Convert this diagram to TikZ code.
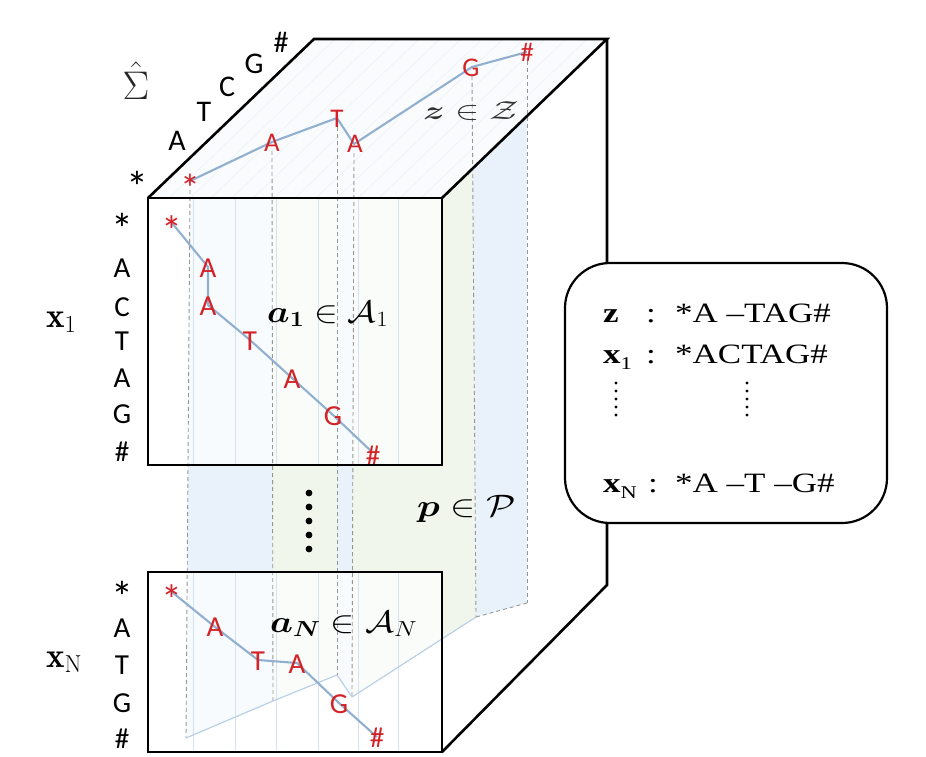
\RequirePackage{fix-cm}
\documentclass[tikz,border=0pt]{standalone}
\usepackage{amsmath}
\usepackage{graphicx}
\usepackage{fontspec}
\newfontfamily\carl{Carlito}
\newfontfamily\tms[FakeStretch=1.25,Ligatures=TeX]{Liberation Serif}
\definecolor{seqred}{RGB}{212,35,40}
\definecolor{pathblue}{RGB}{145,175,207}
\definecolor{bandblue}{RGB}{233,241,250}
\definecolor{bandgreen}{RGB}{240,246,236}
\definecolor{faceclr}{RGB}{250,251,253}
\definecolor{gridclr}{RGB}{212,226,242}
\definecolor{dashclr}{RGB}{150,150,150}
\definecolor{floorclr}{RGB}{185,208,230}
\tikzset{
  lbl/.style={anchor=base, inner sep=0, font={\carl\fontsize{29}{30}\selectfont}},
  toplbl/.style={anchor=base, inner sep=0, font={\carl\fontsize{30}{30}\selectfont}},
  redl/.style={anchor=base, inner sep=0, text=seqred, font={\carl\fontsize{29}{30}\selectfont}},
  redtop/.style={anchor=base, inner sep=0, text=seqred, font={\carl\fontsize{27}{28}\selectfont}},
  astk/.style={anchor=base, inner sep=0, text depth=0pt, font={\carl\fontsize{44}{44}\selectfont}},
  redastk/.style={anchor=base, inner sep=0, text depth=0pt, text=seqred, font={\carl\fontsize{42}{42}\selectfont}},
  cubeline/.style={line width=2.6, black},
  dashv/.style={dashclr, line width=0.9, dash pattern=on 4pt off 3pt},
  pathln/.style={pathblue, line width=2.1, line join=round},
  gridln/.style={gridclr, line width=0.8},
  boxtxt/.style={inner sep=0, font={\tms\fontsize{28}{30}\selectfont}},
  mathlbl/.style={inner sep=0, anchor=base west},
}
\begin{document}
\begin{tikzpicture}[x=1pt,y=-1pt]
\useasboundingbox (0,0) rectangle (926,757);
% path vertices on the top face
\coordinate (t0) at (190,181);
\coordinate (t1) at (272,142);
\coordinate (t2) at (337,118);
\coordinate (t3) at (354,144);
\coordinate (t4) at (472,67);
\coordinate (t5) at (527,52);
% floor of the sheet
\coordinate (b0) at (186,738);
\coordinate (b1) at (273,701);
\coordinate (b2) at (337,675);
\coordinate (b3) at (352,697);
\coordinate (b4) at (476,617);
\coordinate (b5) at (527,603);
% sheet bands
\fill[bandblue] (t0)--(t1)--(b1)--(b0)--cycle;
\fill[bandgreen] (t1)--(t2)--(b2)--(b1)--cycle;
\fill[bandblue] (t2)--(t3)--(b3)--(b2)--cycle;
\fill[bandgreen] (t3)--(t4)--(b4)--(b3)--cycle;
\fill[bandblue] (t4)--(t5)--(b5)--(b4)--cycle;
% top face
\coordinate (fl) at (148,198);
\coordinate (bl) at (314,39);
\coordinate (br) at (607,39);
\coordinate (fr) at (442,198);
\coordinate (rb) at (607,585);
\coordinate (nbr) at (442,752);
\fill[faceclr] (fl)--(bl)--(br)--(fr)--cycle;
\begin{scope}
  \clip (fl)--(bl)--(br)--(fr)--cycle;
  \foreach \i in {0,...,14} \draw[gridclr!45, line width=0.6] (148+21*\i,198) -- ++(166,-159);
\end{scope}
% front boxes (semi-transparent)
\fill[white, fill opacity=0.72] (148,198) rectangle (442,465);
\fill[white, fill opacity=0.72] (148,572) rectangle (442,752);
\foreach \x in {193,235,276,318,358,398} {
  \draw[gridln] (\x,198)--(\x,465);
  \draw[gridln] (\x,572)--(\x,752);
}
% dashed drop lines
\foreach \k in {0,...,5} \draw[dashv] ([yshift=-9pt]t\k) -- (b\k);
% floor line
\draw[floorclr, line width=1.2, line join=round] (b0)--(b1)--(b2)--(b3)--(b4);
\draw[dashv] (b4)--(b5);
% alignment paths
\coordinate (p0) at (172,223);
\coordinate (p1) at (208,267);
\coordinate (p2) at (208,305);
\coordinate (p3) at (250,340);
\coordinate (p4) at (292,378);
\coordinate (p5) at (333,415);
\coordinate (p6) at (372,452);
\coordinate (q0) at (172,592);
\coordinate (q1) at (215,627);
\coordinate (q2) at (258,660);
\coordinate (q3) at (297,663);
\coordinate (q4) at (339,703);
\coordinate (q5) at (377,737);
\draw[pathln] (t0)--(t1)--(t2)--(t3)--(t4)--(t5);
\draw[pathln] (p0)--(p1)--(p2)--(p3)--(p4)--(p5)--(p6);
\draw[pathln] (q0)--(q1)--(q2)--(q3)--(q4)--(q5);
% top-face red letters
\node[redastk, font={\carl\fontsize{40}{40}\selectfont}] (zt0) at (190,202) {*};
\node[redtop] (zt1) at (272,152) {A};
\node[redtop] (zt2) at (337,128) {T};
\node[redtop] (zt3) at (355,153) {A};
\node[redtop] (zt4) at (471,77) {G};
\node[redtop] (zt5) at (527,62) {\#};
% x1 red letters
\node[redastk] (ra0) at (172,245) {*};
\node[redl] (ra1) at (208,277) {A};
\node[redl] (ra2) at (208,315) {A};
\node[redl] (ra3) at (250,350) {T};
\node[redl] (ra4) at (292,388) {A};
\node[redl] (ra5) at (333,425) {G};
\node[redl] (ra6) at (373,465) {\#};
% xN red letters
\node[redastk] (rn0) at (172,614) {*};
\node[redl] (rn1) at (215,636) {A};
\node[redl] (rn2) at (258,670) {T};
\node[redl] (rn3) at (297,673) {A};
\node[redl] (rn4) at (339,713) {G};
\node[redl] (rn5) at (377,747) {\#};
% cuboid outline
\draw[cubeline, line join=miter] (fl)--(bl)--(br)--(fr);
\draw[cubeline, line join=miter] (br)--(rb)--(nbr);
\draw[cubeline] (148,198) rectangle (442,465);
\draw[cubeline] (148,572) rectangle (442,752);
% black labels, top
\node[astk] (s0) at (137,202) {*};
\node[toplbl] (s1) at (177,150) {A};
\node[toplbl] (s2) at (204,122) {T};
\node[toplbl] (s3) at (227,97) {C};
\node[toplbl] (s4) at (254,74) {G};
\node[toplbl] (s5) at (281,53) {\#};
\node[anchor=base, inner sep=0, text=black!85] (sig) at (136,100) {\fontsize{40}{42}\selectfont$\hat{\Sigma}$};
% black labels, x1
\node[astk] (u0) at (122,244) {*};
\node[lbl] (u1) at (122,277) {A};
\node[lbl] (u2) at (122,316) {C};
\node[lbl] (u3) at (122,350) {T};
\node[lbl] (u4) at (122,387) {A};
\node[lbl] (u5) at (122,423) {G};
\node[lbl] (u6) at (122,461) {\#};
% black labels, xN
\node[astk] (v0) at (122,612) {*};
\node[lbl] (v1) at (122,637) {A};
\node[lbl] (v2) at (122,674) {T};
\node[lbl] (v3) at (122,712) {G};
\node[lbl] (v4) at (122,748) {\#};
\node[mathlbl] (x1lab) at (46,327) {\fontsize{35}{36}\selectfont$\mathbf{x}_1$};
\node[mathlbl] (xnlab) at (46,667) {\fontsize{35}{36}\selectfont$\mathbf{x}_{\mathrm{N}}$};
% math labels
\node[mathlbl, text=black!80] (zlab) at (423,120) {\fontsize{26}{28}\selectfont\scalebox{1.4}[1]{$\boldsymbol{z}\in\mathcal{Z}$}};
\node[mathlbl] (a1lab) at (267,322) {\fontsize{31}{33}\selectfont\scalebox{1.15}[1]{$\boldsymbol{a_1}\in\mathcal{A}_1$}};
\node[mathlbl] (anlab) at (270,632) {\fontsize{31}{33}\selectfont\scalebox{1.17}[1]{$\boldsymbol{a_N}\in\mathcal{A}_N$}};
\node[mathlbl] (plab) at (417,516) {\fontsize{31}{33}\selectfont\scalebox{1.22}[1]{$\boldsymbol{p}\in\mathcal{P}$}};
% dots between boxes
\foreach \y in {493,507,521,535,549} \fill (309,\y) circle (3.4);
% legend box
\node[draw, line width=2.2, rounded corners=45, fill=white, minimum width=322, minimum height=260, inner sep=0] (legend) at (726,393) {};
\node[boxtxt, anchor=base west] (lz) at (603,322) {\bfseries z};
\node[boxtxt, anchor=base] (cz) at (651,322) {:};
\node[boxtxt, anchor=base west] (sz) at (675,322) {*A --TAG\#};
\node[boxtxt, anchor=base west] (lx1) at (603,363) {{\bfseries x}\raisebox{-6pt}{\fontsize{18}{18}\selectfont 1}};
\node[boxtxt, anchor=base] (cx1) at (651,363) {:};
\node[boxtxt, anchor=base west] (sx1) at (675,363) {*ACTAG\#};
\node[boxtxt, anchor=base west] (lxn) at (603,492) {{\bfseries x}\raisebox{-6pt}{\fontsize{18}{18}\selectfont N}};
\node[boxtxt, anchor=base] (cxn) at (653,492) {:};
\node[boxtxt, anchor=base west] (sxn) at (675,492) {*A --T --G\#};
\foreach \y in {383,391,399,407,415} {
  \fill (616,\y) circle (1.6);
  \fill (747,\y) circle (1.6);
}
\end{tikzpicture}
\end{document}
